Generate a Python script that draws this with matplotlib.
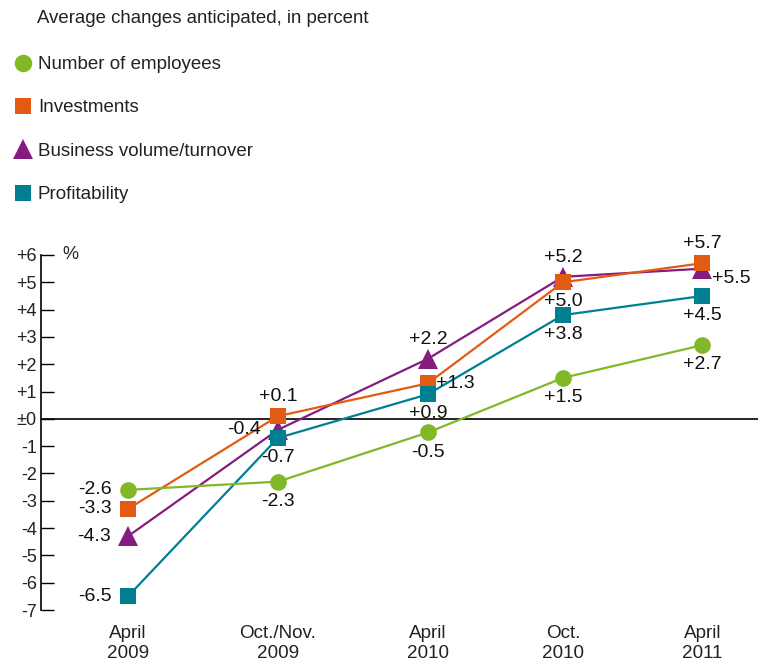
import matplotlib.pyplot as plt
from matplotlib.lines import Line2D

plt.rcParams['font.family'] = ['Liberation Sans', 'DejaVu Sans']

periods = ['April\n2009', 'Oct./Nov.\n2009', 'April\n2010', 'Oct.\n2010', 'April\n2011']
# survey dates are not evenly spaced on the original chart
period_pos = [0, 1, 2, 2.9, 3.83]

employees = [-2.6, -2.3, -0.5, 1.5, 2.7]
investments = [-3.3, 0.1, 1.3, 5.0, 5.7]
business = [-4.3, -0.4, 2.2, 5.2, 5.5]
profitability = [-6.5, -0.7, 0.9, 3.8, 4.5]

# where each value label sits relative to its marker
emp_place = ['left', 'below', 'below', 'below', 'below']
inv_place = ['left', 'above', 'right', 'below', 'above']
bus_place = ['left', 'left', 'above', 'above', 'rightlow']
pro_place = ['left', 'below', 'below', 'below', 'below']

green = '#80b827'
orange = '#e35a12'
purple = '#861b80'
teal = '#007f93'

fig = plt.figure(figsize=(7.58, 6.64), dpi=100)
ax = fig.add_axes([0.054, 0.0813, 0.946, 0.5347])
ax.set_xlim(-0.58, 4.2)
ax.set_ylim(-7, 6)

ax.axhline(0, color='black', lw=1.2, zorder=1)

series = [
    (business, purple, '^', 14, bus_place, 'Business volume/turnover'),
    (investments, orange, 's', 11, inv_place, 'Investments'),
    (profitability, teal, 's', 11, pro_place, 'Profitability'),
    (employees, green, 'o', 12, emp_place, 'Number of employees'),
]

offsets = {
    'left': (-12, 0, 'right', 'center'),
    'right': (6, 0, 'left', 'center'),
    'above': (0, 8, 'center', 'bottom'),
    'below': (0, -8, 'center', 'top'),
    'rightlow': (7, -7, 'left', 'center'),
}

handles = {}
for z, (vals, col, mk, ms, places, name) in enumerate(series):
    ln, = ax.plot(period_pos, vals, color=col, lw=1.6, marker=mk, ms=ms,
                  markeredgewidth=0, zorder=3 + z, clip_on=False)
    handles[name] = ln
    for x, v, p in zip(period_pos, vals, places):
        dx, dy, ha, va = offsets[p]
        if v > 0:
            s = '+%.1f' % v
        else:
            s = '%.1f' % v
        ax.annotate(s, (x, v), xytext=(dx, dy), textcoords='offset points',
                    ha=ha, va=va, fontsize=14, color='#111111', zorder=10)

ax.set_yticks(range(-7, 7))
ylabels = []
for t in range(-7, 7):
    if t > 0:
        ylabels.append('+%d' % t)
    elif t == 0:
        ylabels.append('±0')
    else:
        ylabels.append('%d' % t)
ax.set_yticklabels(ylabels)
ax.tick_params(axis='y', direction='in', length=9, width=1, labelsize=13,
               pad=3, color='black', labelcolor='#222222')

ax.set_xticks(period_pos)
ax.set_xticklabels(periods, fontsize=13.6, color='#222222', linespacing=1.2)
ax.tick_params(axis='x', length=0, pad=11)

for s in ['top', 'right', 'bottom']:
    ax.spines[s].set_visible(False)
ax.spines['left'].set_linewidth(1.2)

ax.text(-0.44, 6, '%', fontsize=13, va='center', ha='left', color='#222222')

fig.text(0.049, 0.972, 'Average changes anticipated, in percent', fontsize=13.4,
         va='center', ha='left', color='#222222')

order = ['Number of employees', 'Investments', 'Business volume/turnover', 'Profitability']
leg_handles = [Line2D([], [], color=handles[n].get_color(), marker=handles[n].get_marker(),
                      ls='none', ms=handles[n].get_markersize() * 1.05, markeredgewidth=0)
               for n in order]
fig.legend(leg_handles, order, loc='upper left', bbox_to_anchor=(0.008, 0.927),
           frameon=False, fontsize=13.5, handlelength=1.0, handletextpad=0.3,
           labelspacing=1.4, borderaxespad=0, labelcolor='#222222')

fig.savefig('out.png', dpi=100)
